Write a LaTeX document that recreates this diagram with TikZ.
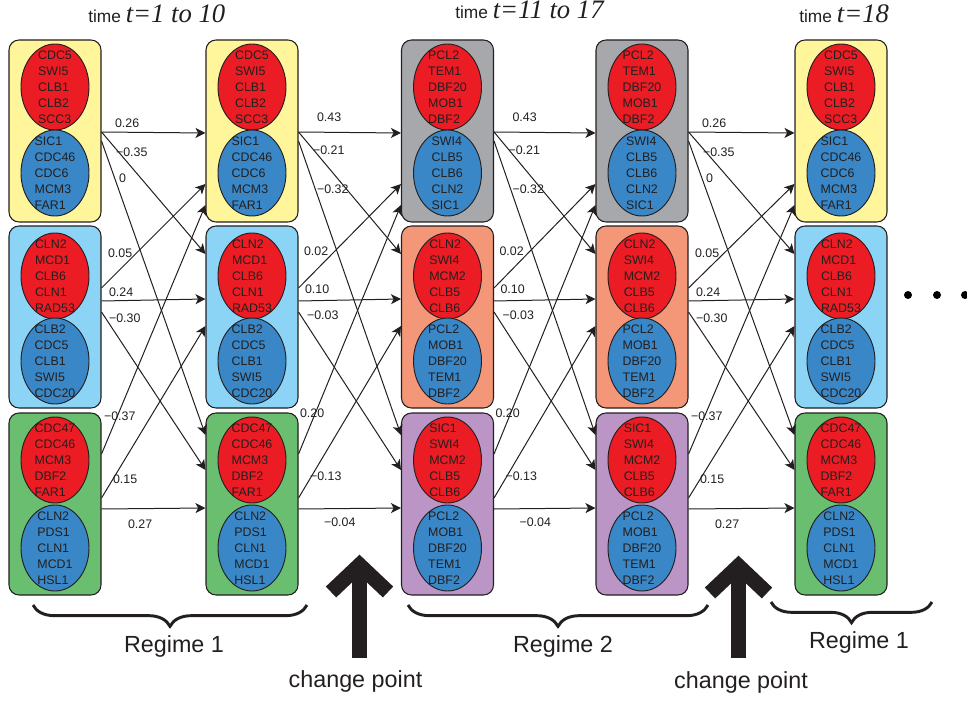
\documentclass[tikz,border=0pt]{standalone}
\usepackage{fontspec}
\setmainfont{Liberation Sans}
\newfontfamily\serifit{Liberation Serif}
\usetikzlibrary{arrows.meta,calc,shapes.geometric,decorations.pathreplacing}
\definecolor{NetYellow}{RGB}{255,245,155}
\definecolor{NetSky}{RGB}{140,212,246}
\definecolor{NetGreen}{RGB}{106,190,111}
\definecolor{NetGray}{RGB}{167,168,172}
\definecolor{NetSalmon}{RGB}{244,151,121}
\definecolor{NetViolet}{RGB}{186,149,197}
\definecolor{NetRed}{RGB}{236,28,36}
\definecolor{NetBlue}{RGB}{57,135,198}
\definecolor{NetInk}{RGB}{35,31,32}
\tikzset{
  bloco/.style={draw=NetInk, line width=0.8pt, rounded corners=7.5pt,
                minimum width=69pt, minimum height=136.5pt, inner sep=0pt},
  elipse/.style={ellipse, draw=NetInk, line width=0.7pt, minimum width=51pt,
                minimum height=64.5pt, inner sep=0pt},
  genes/.style={align=left, font=\fontsize{9.3}{12}\selectfont, text=NetInk, inner sep=0pt},
  seta/.style={-{Stealth[length=7.5pt, width=7.5pt, inset=2pt]}, line width=0.75pt, NetInk},
  peso/.style={anchor=west, font=\fontsize{9.3}{11}\selectfont, text=NetInk, inner sep=0pt},
  titulo/.style={anchor=base west, inner sep=0pt, font=\fontsize{13}{15}\selectfont, text=NetInk},
  rotulo/.style={anchor=base, inner sep=0pt, font=\fontsize{17.5}{20}\selectfont, text=NetInk},
  setagrossa/.style={line width=11.25pt, NetInk},
  chave/.style={decorate, decoration={brace, amplitude=16pt}, line width=2.2pt, NetInk},
  ponto/.style={circle, fill=black, minimum size=6pt, inner sep=0pt},
}

\begin{document}
\begin{tikzpicture}[x=0.75pt, y=-0.75pt]
  \useasboundingbox (0,0) rectangle (967,702);

  % Titulos
  \node[titulo] (T1) at (88,23)  {time {\serifit\itshape\fontsize{20}{22}\selectfont t=1 to 10}};
  \node[titulo] (T2) at (455,19) {time {\serifit\itshape\fontsize{20}{22}\selectfont t=11 to 17}};
  \node[titulo] (T3) at (799,23) {time {\serifit\itshape\fontsize{20}{22}\selectfont t=18}};

  % Coluna 1 (regime 1)
  \node[bloco, fill=NetYellow] (B11) at (55,131) {};
  \node[elipse, fill=NetRed]  (R11) at (55,87)  {};
  \node[genes] (R11t) at (R11) {CDC5\\SWI5\\CLB1\\CLB2\\SCC3};
  \node[elipse, fill=NetBlue] (A11) at (55,173) {};
  \node[genes] (A11t) at (A11) {SIC1\\CDC46\\CDC6\\MCM3\\FAR1};
  \node[bloco, fill=NetSky] (B12) at (55,317) {};
  \node[elipse, fill=NetRed]  (R12) at (55,276) {};
  \node[genes] (R12t) at (R12) {CLN2\\MCD1\\CLB6\\CLN1\\RAD53};
  \node[elipse, fill=NetBlue] (A12) at (55,361) {};
  \node[genes] (A12t) at (A12) {CLB2\\CDC5\\CLB1\\SWI5\\CDC20};
  \node[bloco, fill=NetGreen] (B13) at (55,504) {};
  \node[elipse, fill=NetRed]  (R13) at (55,460) {};
  \node[genes] (R13t) at (R13) {CDC47\\CDC46\\MCM3\\DBF2\\FAR1};
  \node[elipse, fill=NetBlue] (A13) at (55,548) {};
  \node[genes] (A13t) at (A13) {CLN2\\PDS1\\CLN1\\MCD1\\HSL1};

  % Coluna 2 (regime 1)
  \node[bloco, fill=NetYellow] (B21) at (252,131) {};
  \node[elipse, fill=NetRed]  (R21) at (252,87)  {};
  \node[genes] (R21t) at (R21) {CDC5\\SWI5\\CLB1\\CLB2\\SCC3};
  \node[elipse, fill=NetBlue] (A21) at (252,173) {};
  \node[genes] (A21t) at (A21) {SIC1\\CDC46\\CDC6\\MCM3\\FAR1};
  \node[bloco, fill=NetSky] (B22) at (252,317) {};
  \node[elipse, fill=NetRed]  (R22) at (252,276) {};
  \node[genes] (R22t) at (R22) {CLN2\\MCD1\\CLB6\\CLN1\\RAD53};
  \node[elipse, fill=NetBlue] (A22) at (252,361) {};
  \node[genes] (A22t) at (A22) {CLB2\\CDC5\\CLB1\\SWI5\\CDC20};
  \node[bloco, fill=NetGreen] (B23) at (252,504) {};
  \node[elipse, fill=NetRed]  (R23) at (252,460) {};
  \node[genes] (R23t) at (R23) {CDC47\\CDC46\\MCM3\\DBF2\\FAR1};
  \node[elipse, fill=NetBlue] (A23) at (252,548) {};
  \node[genes] (A23t) at (A23) {CLN2\\PDS1\\CLN1\\MCD1\\HSL1};

  % Coluna 3 (regime 2)
  \node[bloco, fill=NetGray] (B31) at (447.5,131) {};
  \node[elipse, fill=NetRed]  (R31) at (447.5,87)  {};
  \node[genes] (R31t) at (R31) {PCL2\\TEM1\\DBF20\\MOB1\\DBF2};
  \node[elipse, fill=NetBlue] (A31) at (447.5,173) {};
  \node[genes] (A31t) at (A31) {SWI4\\CLB5\\CLB6\\CLN2\\SIC1};
  \node[bloco, fill=NetSalmon] (B32) at (447.5,317) {};
  \node[elipse, fill=NetRed]  (R32) at (447.5,276) {};
  \node[genes] (R32t) at (R32) {CLN2\\SWI4\\MCM2\\CLB5\\CLB6};
  \node[elipse, fill=NetBlue] (A32) at (447.5,361) {};
  \node[genes] (A32t) at (A32) {PCL2\\MOB1\\DBF20\\TEM1\\DBF2};
  \node[bloco, fill=NetViolet] (B33) at (447.5,504) {};
  \node[elipse, fill=NetRed]  (R33) at (447.5,460) {};
  \node[genes] (R33t) at (R33) {SIC1\\SWI4\\MCM2\\CLB5\\CLB6};
  \node[elipse, fill=NetBlue] (A33) at (447.5,548) {};
  \node[genes] (A33t) at (A33) {PCL2\\MOB1\\DBF20\\TEM1\\DBF2};

  % Coluna 4 (regime 2)
  \node[bloco, fill=NetGray] (B41) at (642,131) {};
  \node[elipse, fill=NetRed]  (R41) at (642,87)  {};
  \node[genes] (R41t) at (R41) {PCL2\\TEM1\\DBF20\\MOB1\\DBF2};
  \node[elipse, fill=NetBlue] (A41) at (642,173) {};
  \node[genes] (A41t) at (A41) {SWI4\\CLB5\\CLB6\\CLN2\\SIC1};
  \node[bloco, fill=NetSalmon] (B42) at (642,317) {};
  \node[elipse, fill=NetRed]  (R42) at (642,276) {};
  \node[genes] (R42t) at (R42) {CLN2\\SWI4\\MCM2\\CLB5\\CLB6};
  \node[elipse, fill=NetBlue] (A42) at (642,361) {};
  \node[genes] (A42t) at (A42) {PCL2\\MOB1\\DBF20\\TEM1\\DBF2};
  \node[bloco, fill=NetViolet] (B43) at (642,504) {};
  \node[elipse, fill=NetRed]  (R43) at (642,460) {};
  \node[genes] (R43t) at (R43) {SIC1\\SWI4\\MCM2\\CLB5\\CLB6};
  \node[elipse, fill=NetBlue] (A43) at (642,548) {};
  \node[genes] (A43t) at (A43) {PCL2\\MOB1\\DBF20\\TEM1\\DBF2};

  % Coluna 5 (regime 1)
  \node[bloco, fill=NetYellow] (B51) at (841,131) {};
  \node[elipse, fill=NetRed]  (R51) at (841,87)  {};
  \node[genes] (R51t) at (R51) {CDC5\\SWI5\\CLB1\\CLB2\\SCC3};
  \node[elipse, fill=NetBlue] (A51) at (841,173) {};
  \node[genes] (A51t) at (A51) {SIC1\\CDC46\\CDC6\\MCM3\\FAR1};
  \node[bloco, fill=NetSky] (B52) at (841,317) {};
  \node[elipse, fill=NetRed]  (R52) at (841,276) {};
  \node[genes] (R52t) at (R52) {CLN2\\MCD1\\CLB6\\CLN1\\RAD53};
  \node[elipse, fill=NetBlue] (A52) at (841,361) {};
  \node[genes] (A52t) at (A52) {CLB2\\CDC5\\CLB1\\SWI5\\CDC20};
  \node[bloco, fill=NetGreen] (B53) at (841,504) {};
  \node[elipse, fill=NetRed]  (R53) at (841,460) {};
  \node[genes] (R53t) at (R53) {CDC47\\CDC46\\MCM3\\DBF2\\FAR1};
  \node[elipse, fill=NetBlue] (A53) at (841,548) {};
  \node[genes] (A53t) at (A53) {CLN2\\PDS1\\CLN1\\MCD1\\HSL1};

  % Transicoes 1 -> 2
  \draw[seta] ($(B11.east)+(0,1)$)   -- ($(B21.west)+(0,2)$)   node[peso] (w1a) at ($(B11.east)+(13,-8)$)  {0.26};
  \draw[seta] ($(B11.east)+(0,1)$)   -- ($(B22.west)+(0,-63)$) node[peso] (w1b) at ($(B11.east)+(14,21)$)  {−0.35};
  \draw[seta] ($(B11.east)+(0,10)$)  -- ($(B23.west)+(0,-69)$) node[peso] (w1c) at ($(B11.east)+(17,47)$)  {0};
  \draw[seta] ($(B12.east)+(0,-29)$) -- ($(B21.west)+(0,53)$)  node[peso] (w1d) at ($(B12.east)+(6,-64)$)  {0.05};
  \draw[seta] ($(B12.east)+(0,-16)$) -- ($(B22.west)+(0,-18)$) node[peso] (w1e) at ($(B12.east)+(7,-25)$)  {0.24};
  \draw[seta] ($(B12.east)+(0,-5)$)  -- ($(B23.west)+(0,-34)$) node[peso] (w1f) at ($(B12.east)+(7,1)$)    {−0.30};
  \draw[seta] ($(B13.east)+(0,-50)$) -- ($(B21.west)+(0,74)$)  node[peso] (w1g) at ($(B13.east)+(2,-88)$)  {−0.37};
  \draw[seta] ($(B13.east)+(0,-6)$)  -- ($(B22.west)+(0,9)$)   node[peso] (w1h) at ($(B13.east)+(11,-25)$) {0.15};
  \draw[seta] ($(B13.east)+(0,5)$)   -- ($(B23.west)+(0,4)$)   node[peso] (w1i) at ($(B13.east)+(26,20)$)  {0.27};

  % Transicoes 2 -> 3
  \draw[seta] ($(B21.east)+(0,1)$)   -- ($(B31.west)+(0,2)$)   node[peso] (w2a) at ($(B21.east)+(18,-14)$) {0.43};
  \draw[seta] ($(B21.east)+(0,1)$)   -- ($(B32.west)+(0,-63)$) node[peso] (w2b) at ($(B21.east)+(14,19)$)  {−0.21};
  \draw[seta] ($(B21.east)+(0,10)$)  -- ($(B33.west)+(0,-69)$) node[peso] (w2c) at ($(B21.east)+(18,58)$)  {−0.32};
  \draw[seta] ($(B22.east)+(0,-29)$) -- ($(B31.west)+(0,53)$)  node[peso] (w2d) at ($(B22.east)+(5,-66)$)  {0.02};
  \draw[seta] ($(B22.east)+(0,-16)$) -- ($(B32.west)+(0,-18)$) node[peso] (w2e) at ($(B22.east)+(6,-28)$)  {0.10};
  \draw[seta] ($(B22.east)+(0,-5)$)  -- ($(B33.west)+(0,-34)$) node[peso] (w2f) at ($(B22.east)+(8,-2)$)   {−0.03};
  \draw[seta] ($(B23.east)+(0,-50)$) -- ($(B31.west)+(0,74)$)  node[peso] (w2g) at ($(B23.east)+(1,-91)$)  {0.20};
  \draw[seta] ($(B23.east)+(0,-6)$)  -- ($(B32.west)+(0,9)$)   node[peso] (w2h) at ($(B23.east)+(11,-28)$) {−0.13};
  \draw[seta] ($(B23.east)+(0,5)$)   -- ($(B33.west)+(0,4)$)   node[peso] (w2i) at ($(B23.east)+(25,18)$)  {−0.04};

  % Transicoes 3 -> 4
  \draw[seta] ($(B31.east)+(0,1)$)   -- ($(B41.west)+(0,2)$)   node[peso] (w3a) at ($(B31.east)+(18,-14)$) {0.43};
  \draw[seta] ($(B31.east)+(0,1)$)   -- ($(B42.west)+(0,-63)$) node[peso] (w3b) at ($(B31.east)+(14,19)$)  {−0.21};
  \draw[seta] ($(B31.east)+(0,10)$)  -- ($(B43.west)+(0,-69)$) node[peso] (w3c) at ($(B31.east)+(18,58)$)  {−0.32};
  \draw[seta] ($(B32.east)+(0,-29)$) -- ($(B41.west)+(0,53)$)  node[peso] (w3d) at ($(B32.east)+(5,-66)$)  {0.02};
  \draw[seta] ($(B32.east)+(0,-16)$) -- ($(B42.west)+(0,-18)$) node[peso] (w3e) at ($(B32.east)+(6,-28)$)  {0.10};
  \draw[seta] ($(B32.east)+(0,-5)$)  -- ($(B43.west)+(0,-34)$) node[peso] (w3f) at ($(B32.east)+(8,-2)$)   {−0.03};
  \draw[seta] ($(B33.east)+(0,-50)$) -- ($(B41.west)+(0,74)$)  node[peso] (w3g) at ($(B33.east)+(1,-91)$)  {0.20};
  \draw[seta] ($(B33.east)+(0,-6)$)  -- ($(B42.west)+(0,9)$)   node[peso] (w3h) at ($(B33.east)+(11,-28)$) {−0.13};
  \draw[seta] ($(B33.east)+(0,5)$)   -- ($(B43.west)+(0,4)$)   node[peso] (w3i) at ($(B33.east)+(25,18)$)  {−0.04};

  % Transicoes 4 -> 5
  \draw[seta] ($(B41.east)+(0,1)$)   -- ($(B51.west)+(0,2)$)   node[peso] (w4a) at ($(B41.east)+(13,-8)$)  {0.26};
  \draw[seta] ($(B41.east)+(0,1)$)   -- ($(B52.west)+(0,-63)$) node[peso] (w4b) at ($(B41.east)+(14,21)$)  {−0.35};
  \draw[seta] ($(B41.east)+(0,10)$)  -- ($(B53.west)+(0,-69)$) node[peso] (w4c) at ($(B41.east)+(17,47)$)  {0};
  \draw[seta] ($(B42.east)+(0,-29)$) -- ($(B51.west)+(0,53)$)  node[peso] (w4d) at ($(B42.east)+(6,-64)$)  {0.05};
  \draw[seta] ($(B42.east)+(0,-16)$) -- ($(B52.west)+(0,-18)$) node[peso] (w4e) at ($(B42.east)+(7,-25)$)  {0.24};
  \draw[seta] ($(B42.east)+(0,-5)$)  -- ($(B53.west)+(0,-34)$) node[peso] (w4f) at ($(B42.east)+(7,1)$)    {−0.30};
  \draw[seta] ($(B43.east)+(0,-50)$) -- ($(B51.west)+(0,74)$)  node[peso] (w4g) at ($(B43.east)+(2,-88)$)  {−0.37};
  \draw[seta] ($(B43.east)+(0,-6)$)  -- ($(B52.west)+(0,9)$)   node[peso] (w4h) at ($(B43.east)+(11,-25)$) {0.15};
  \draw[seta] ($(B43.east)+(0,5)$)   -- ($(B53.west)+(0,4)$)   node[peso] (w4i) at ($(B43.east)+(26,20)$)  {0.27};

  % Reticencias
  \node[ponto] (P1) at (908,295) {};
  \node[ponto] (P2) at (937,295) {};
  \node[ponto] (P3) at (965,295) {};

  % Regimes
  \coordinate (K1e) at (307,605);  \coordinate (K1w) at (33,605);
  \coordinate (K2e) at (708,605);  \coordinate (K2w) at (408,605);
  \coordinate (K3e) at (932,602);  \coordinate (K3w) at (771,602);
  \draw[chave] (K1e) -- (K1w);
  \draw[chave] (K2e) -- (K2w);
  \draw[chave, decoration={amplitude=15.5pt}] (K3e) -- (K3w);
  \node[rotulo] (G1) at (174,652) {Regime 1};
  \node[rotulo] (G2) at (563,652) {Regime 2};
  \node[rotulo] (G3) at (859,648) {Regime 1};

  % Pontos de mudanca
  \coordinate (C1base) at (359.5,658); \coordinate (C1tip) at (359.5,565);
  \coordinate (C2base) at (738.5,658); \coordinate (C2tip) at (738.5,566);
  \draw[setagrossa] (C1base) -- (C1tip);
  \draw[setagrossa] (331,592) -- (C1tip) -- (388,592);
  \draw[setagrossa] (C2base) -- (C2tip);
  \draw[setagrossa] (710,593) -- (C2tip) -- (767,593);
  \node[rotulo] (M1) at (355.5,687) {change point};
  \node[rotulo] (M2) at (741,688) {change point};
\end{tikzpicture}
\end{document}
